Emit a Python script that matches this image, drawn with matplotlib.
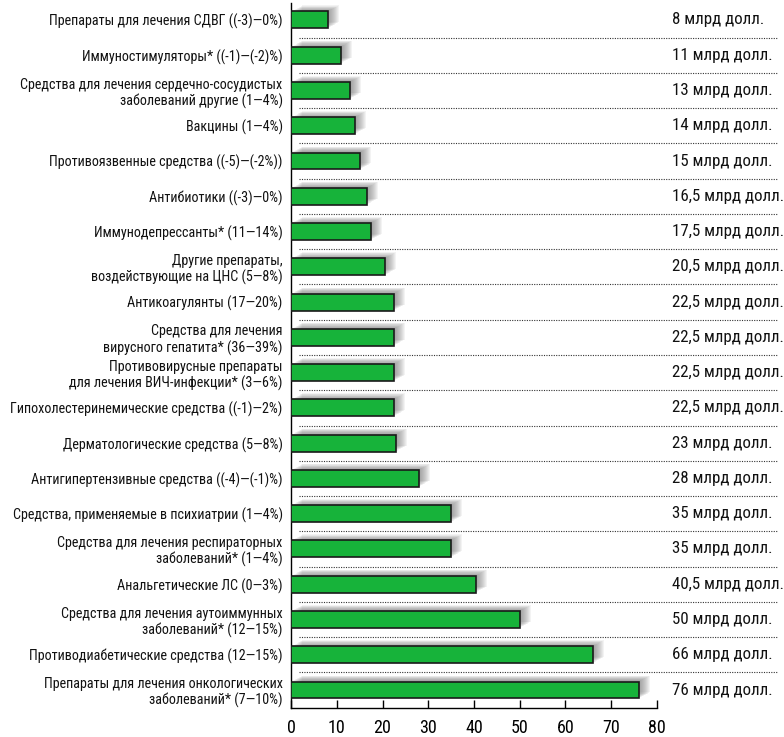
import matplotlib.pyplot as plt
import matplotlib.transforms as mtransforms
import matplotlib.font_manager as fm
from matplotlib.patches import Rectangle

# ищем узкий шрифт
fonts = fm.fontManager.ttflist
names = {f.name for f in fonts}
narrow = None
for cand in ['Liberation Sans Narrow', 'Roboto Condensed', 'Open Sans Condensed',
             'Noto Sans Condensed', 'DejaVu Sans Condensed', 'Noto Sans SemiCondensed']:
    if cand in names:
        narrow = cand
        break
if narrow is None:
    cond = [f for f in fonts if str(f.stretch) in ('condensed', 'semi-condensed', '75', '87')
            or 'ondensed' in f.fname or 'Narrow' in f.fname]
    if cond:
        narrow = cond[0].name
        plt.rcParams['font.stretch'] = 'condensed'
found = narrow is not None
plt.rcParams['font.family'] = [narrow, 'DejaVu Sans'] if found else ['DejaVu Sans']

# данные (сверху вниз)
categories = [
    'Препараты для лечения СДВГ ((-3)—0%)',
    'Иммуностимуляторы* ((-1)—(-2)%)',
    'Средства для лечения сердечно-сосудистых\nзаболеваний другие (1—4%)',
    'Вакцины (1—4%)',
    'Противоязвенные средства ((-5)—(-2%))',
    'Антибиотики ((-3)—0%)',
    'Иммунодепрессанты* (11—14%)',
    'Другие препараты,\nвоздействующие на ЦНС (5—8%)',
    'Антикоагулянты (17—20%)',
    'Средства для лечения\nвирусного гепатита* (36—39%)',
    'Противовирусные препараты\nдля лечения ВИЧ-инфекции* (3—6%)',
    'Гипохолестеринемические средства ((-1)—2%)',
    'Дерматологические средства (5—8%)',
    'Антигипертензивные средства ((-4)—(-1)%)',
    'Средства, применяемые в психиатрии (1—4%)',
    'Средства для лечения респираторных\nзаболеваний* (1—4%)',
    'Анальгетические ЛС (0—3%)',
    'Средства для лечения аутоиммунных\nзаболеваний* (12—15%)',
    'Противодиабетические средства (12—15%)',
    'Препараты для лечения онкологических\nзаболеваний* (7—10%)',
]
values = [8, 11, 13, 14, 15, 16.5, 17.5, 20.5, 22.5, 22.5,
          22.5, 22.5, 23, 28, 35, 35, 40.5, 50, 66, 76]
value_labels = ['8 млрд долл.', '11 млрд долл.', '13 млрд долл.', '14 млрд долл.',
                '15 млрд долл.', '16,5 млрд долл.', '17,5 млрд долл.', '20,5 млрд долл.',
                '22,5 млрд долл.', '22,5 млрд долл.', '22,5 млрд долл.', '22,5 млрд долл.',
                '23 млрд долл.', '28 млрд долл.', '35 млрд долл.', '35 млрд долл.',
                '40,5 млрд долл.', '50 млрд долл.', '66 млрд долл.', '76 млрд долл.']
xticks = [0, 10, 20, 30, 40, 50, 60, 70, 80]

if found:
    cat_fs, val_fs, tick_fs = 10.15, 12.2, 13
else:
    cat_fs, val_fs, tick_fs = 8.3, 9.4, 12

fig = plt.figure(figsize=(7.84, 7.37), dpi=100)
ax = fig.add_axes([0.3712, 0.040, 0.4668, 0.956])

y = list(range(len(values)))
h = 0.48

# тень (смещение вправо-вверх)
for k in range(1, 12):
    tr = ax.transData + mtransforms.ScaledTranslation(k * 1.0 / 100, k * 0.55 / 100, fig.dpi_scale_trans)
    for yi, v in zip(y, values):
        ax.add_patch(Rectangle((0, yi - h / 2), v, h, transform=tr,
                               facecolor='#6a6a6a', edgecolor='none', alpha=0.08, zorder=1))

ax.barh(y, values, height=h, color='#17b33a', edgecolor='#1a1a1a', linewidth=1.2, zorder=3)

# пунктирные разделители
for yi in y[:-1]:
    ax.plot([1.75, 106.2], [yi + 0.5, yi + 0.5], ls=(0, (1, 1.2)), color='#333333',
            lw=0.8, clip_on=False, zorder=2)

for yi, lab in zip(y, value_labels):
    ax.text(83.3, yi, lab, ha='left', va='center', fontsize=val_fs, color='#111111', clip_on=False)

ax.set_xlim(0, 80)
ax.set_ylim(19.496, -0.482)
ax.set_yticks(y)
ax.set_yticklabels(categories, fontsize=cat_fs, color='#111111', linespacing=1.15)
ax.tick_params(axis='y', length=0, pad=6)
ax.set_xticks(xticks)
ax.tick_params(axis='x', direction='in', length=6, width=1, labelsize=tick_fs, pad=8)
ax.spines['top'].set_visible(False)
ax.spines['right'].set_visible(False)
for s in ['left', 'bottom']:
    ax.spines[s].set_linewidth(1)

fig.savefig('out.png', dpi=100)
